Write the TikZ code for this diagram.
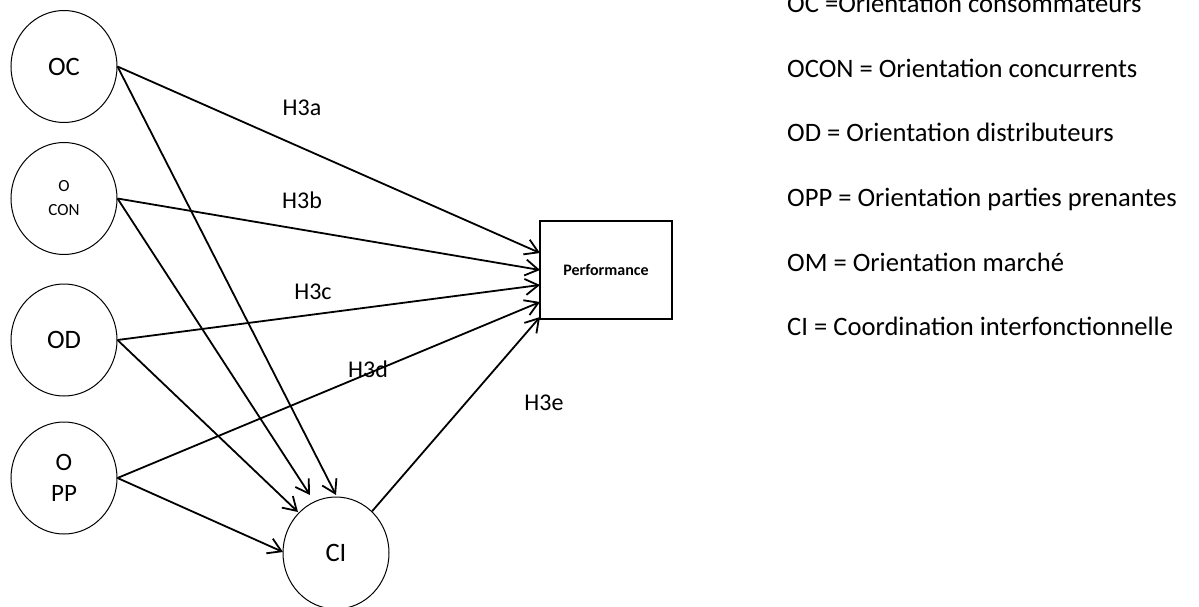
\documentclass[tikz,border=0pt]{standalone}
\usepackage{fontspec}
\setmainfont{Carlito}
\usetikzlibrary{shapes.geometric,arrows.meta}
\begin{document}
\begin{tikzpicture}[x=1pt,y=-1pt,
  var/.style={ellipse,draw,line width=1pt,minimum width=106pt,minimum height=112pt,inner sep=0pt,align=center},
  big/.style={font=\fontsize{26.6}{30}\selectfont},
  conn/.style={line width=1.8pt,-{Straight Barb[length=13pt,width=16pt,line width=1.8pt]}},
  hlab/.style={font=\fontsize{24}{28}\selectfont,inner sep=0pt},
  legend/.style={anchor=base west,inner sep=0pt,font=\fontsize{26.6}{30}\selectfont}]
\useasboundingbox (0,0) rectangle (1199,607);
% variables
\node[var,big] (OC) at (64,66.5) {OC};
\node[var,font=\fontsize{17}{24}\selectfont] (OCON) at (64,198.5) {O\\CON};
\node[var,big] (OD) at (64,340) {OD};
\node[var,font=\fontsize{25}{31}\selectfont] (OPP) at (64,478) {O\\PP};
\node[var,big] (CI) at (336,553) {CI};
\node[draw,line width=1.3pt,minimum width=132pt,minimum height=98pt,inner sep=0pt,
      font=\fontsize{16}{19}\selectfont\bfseries] (perf) at (606,270) {Performance};
% arrow end points
\coordinate (p1) at (540,253);
\coordinate (p2) at (540,270);
\coordinate (p3) at (540,285);
\coordinate (p4) at (540,302);
\coordinate (p5) at (540,317);
\coordinate (c1) at (336,495);
\coordinate (c2) at (310,495);
\coordinate (c3) at (298,512);
\coordinate (c4) at (283,552);
% connectors
\draw[conn] (OC.east) -- (p1);
\draw[conn] (OC.east) -- (c1);
\draw[conn] (OCON.east) -- (p2);
\draw[conn] (OCON.east) -- (c2);
\draw[conn] (OD.east) -- (p3);
\draw[conn] (OD.east) -- (c3);
\draw[conn] (OPP.east) -- (p4);
\draw[conn] (OPP.east) -- (c4);
\draw[conn] (CI) -- (p5);
% labels
\node[hlab] (h3a) at (302,108) {H3a};
\node[hlab] (h3b) at (302,200) {H3b};
\node[hlab] (h3c) at (313,292) {H3c};
\node[hlab] (h3d) at (368,369) {H3d};
\node[hlab] (h3e) at (544,403) {H3e};
% legend
\node[legend] (l1) at (787,13) {OC =Orientation consommateurs};
\node[legend] (l2) at (787,77.5) {OCON = Orientation concurrents};
\node[legend] (l3) at (787,142) {OD = Orientation distributeurs};
\node[legend] (l4) at (787,206.5) {OPP = Orientation parties prenantes};
\node[legend] (l5) at (787,271) {OM = Orientation marché};
\node[legend] (l6) at (787,335.5) {CI = Coordination interfonctionnelle};
\end{tikzpicture}
\end{document}
